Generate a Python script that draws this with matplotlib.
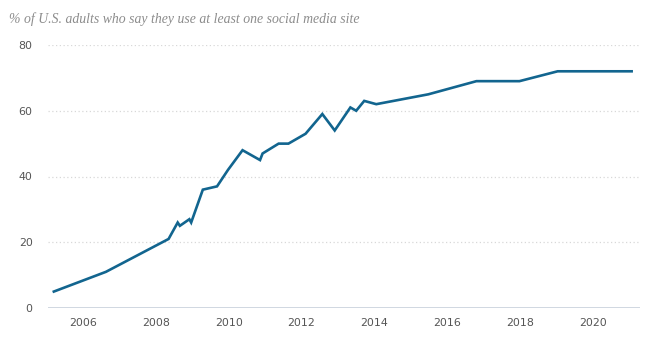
import matplotlib
matplotlib.use('Agg')
import matplotlib.pyplot as plt

# survey dates as decimal years, share of U.S. adults using social media
years = [2005.2, 2006.63, 2008.35, 2008.6, 2008.66, 2008.92, 2008.97, 2009.29,
         2009.68, 2009.98, 2010.38, 2010.86, 2010.93, 2011.37, 2011.64, 2012.11,
         2012.57, 2012.91, 2013.34, 2013.5, 2013.72, 2014.05, 2015.48, 2016.8,
         2017.98, 2019.03, 2021.06]
values = [5, 11, 21, 26, 25, 27, 26, 36, 37, 42, 48, 45, 47, 50, 50, 53, 59,
          54, 61, 60, 63, 62, 65, 69, 69, 72, 72]
xticks = [2006, 2008, 2010, 2012, 2014, 2016, 2018, 2020]
yticks = [0, 20, 40, 60, 80]
title = "% of U.S. adults who say they use at least one social media site"

fig = plt.figure(figsize=(6.66, 3.54), dpi=100)
ax = fig.add_axes([48 / 666, 46 / 354, 592 / 666, 263 / 354])

for y in yticks[1:]:
    ax.axhline(y, color='#d8d8d8', lw=0.9, ls=(0, (1, 2)), zorder=1)
ax.axhline(0, color='#c3cdd8', lw=1.1, zorder=1)

ax.plot(years, values, color='#12658f', lw=1.9, clip_on=False, zorder=3,
        solid_joinstyle='miter')

ax.set_xlim(2005.04, 2021.29)
ax.set_ylim(0, 80)
ax.set_xticks(xticks)
ax.set_yticks(yticks)
ax.tick_params(axis='both', length=0, labelsize=7.9, colors='#555555')
ax.tick_params(axis='y', pad=11)
ax.tick_params(axis='x', pad=7)
for s in ax.spines.values():
    s.set_visible(False)

fig.text(9 / 666, 1 - 19 / 354, title, fontsize=9.9, style='italic',
         family='Liberation Serif', color='#8c8c8c', va='center', ha='left')

fig.savefig('out.png', dpi=100)
plt.close(fig)
